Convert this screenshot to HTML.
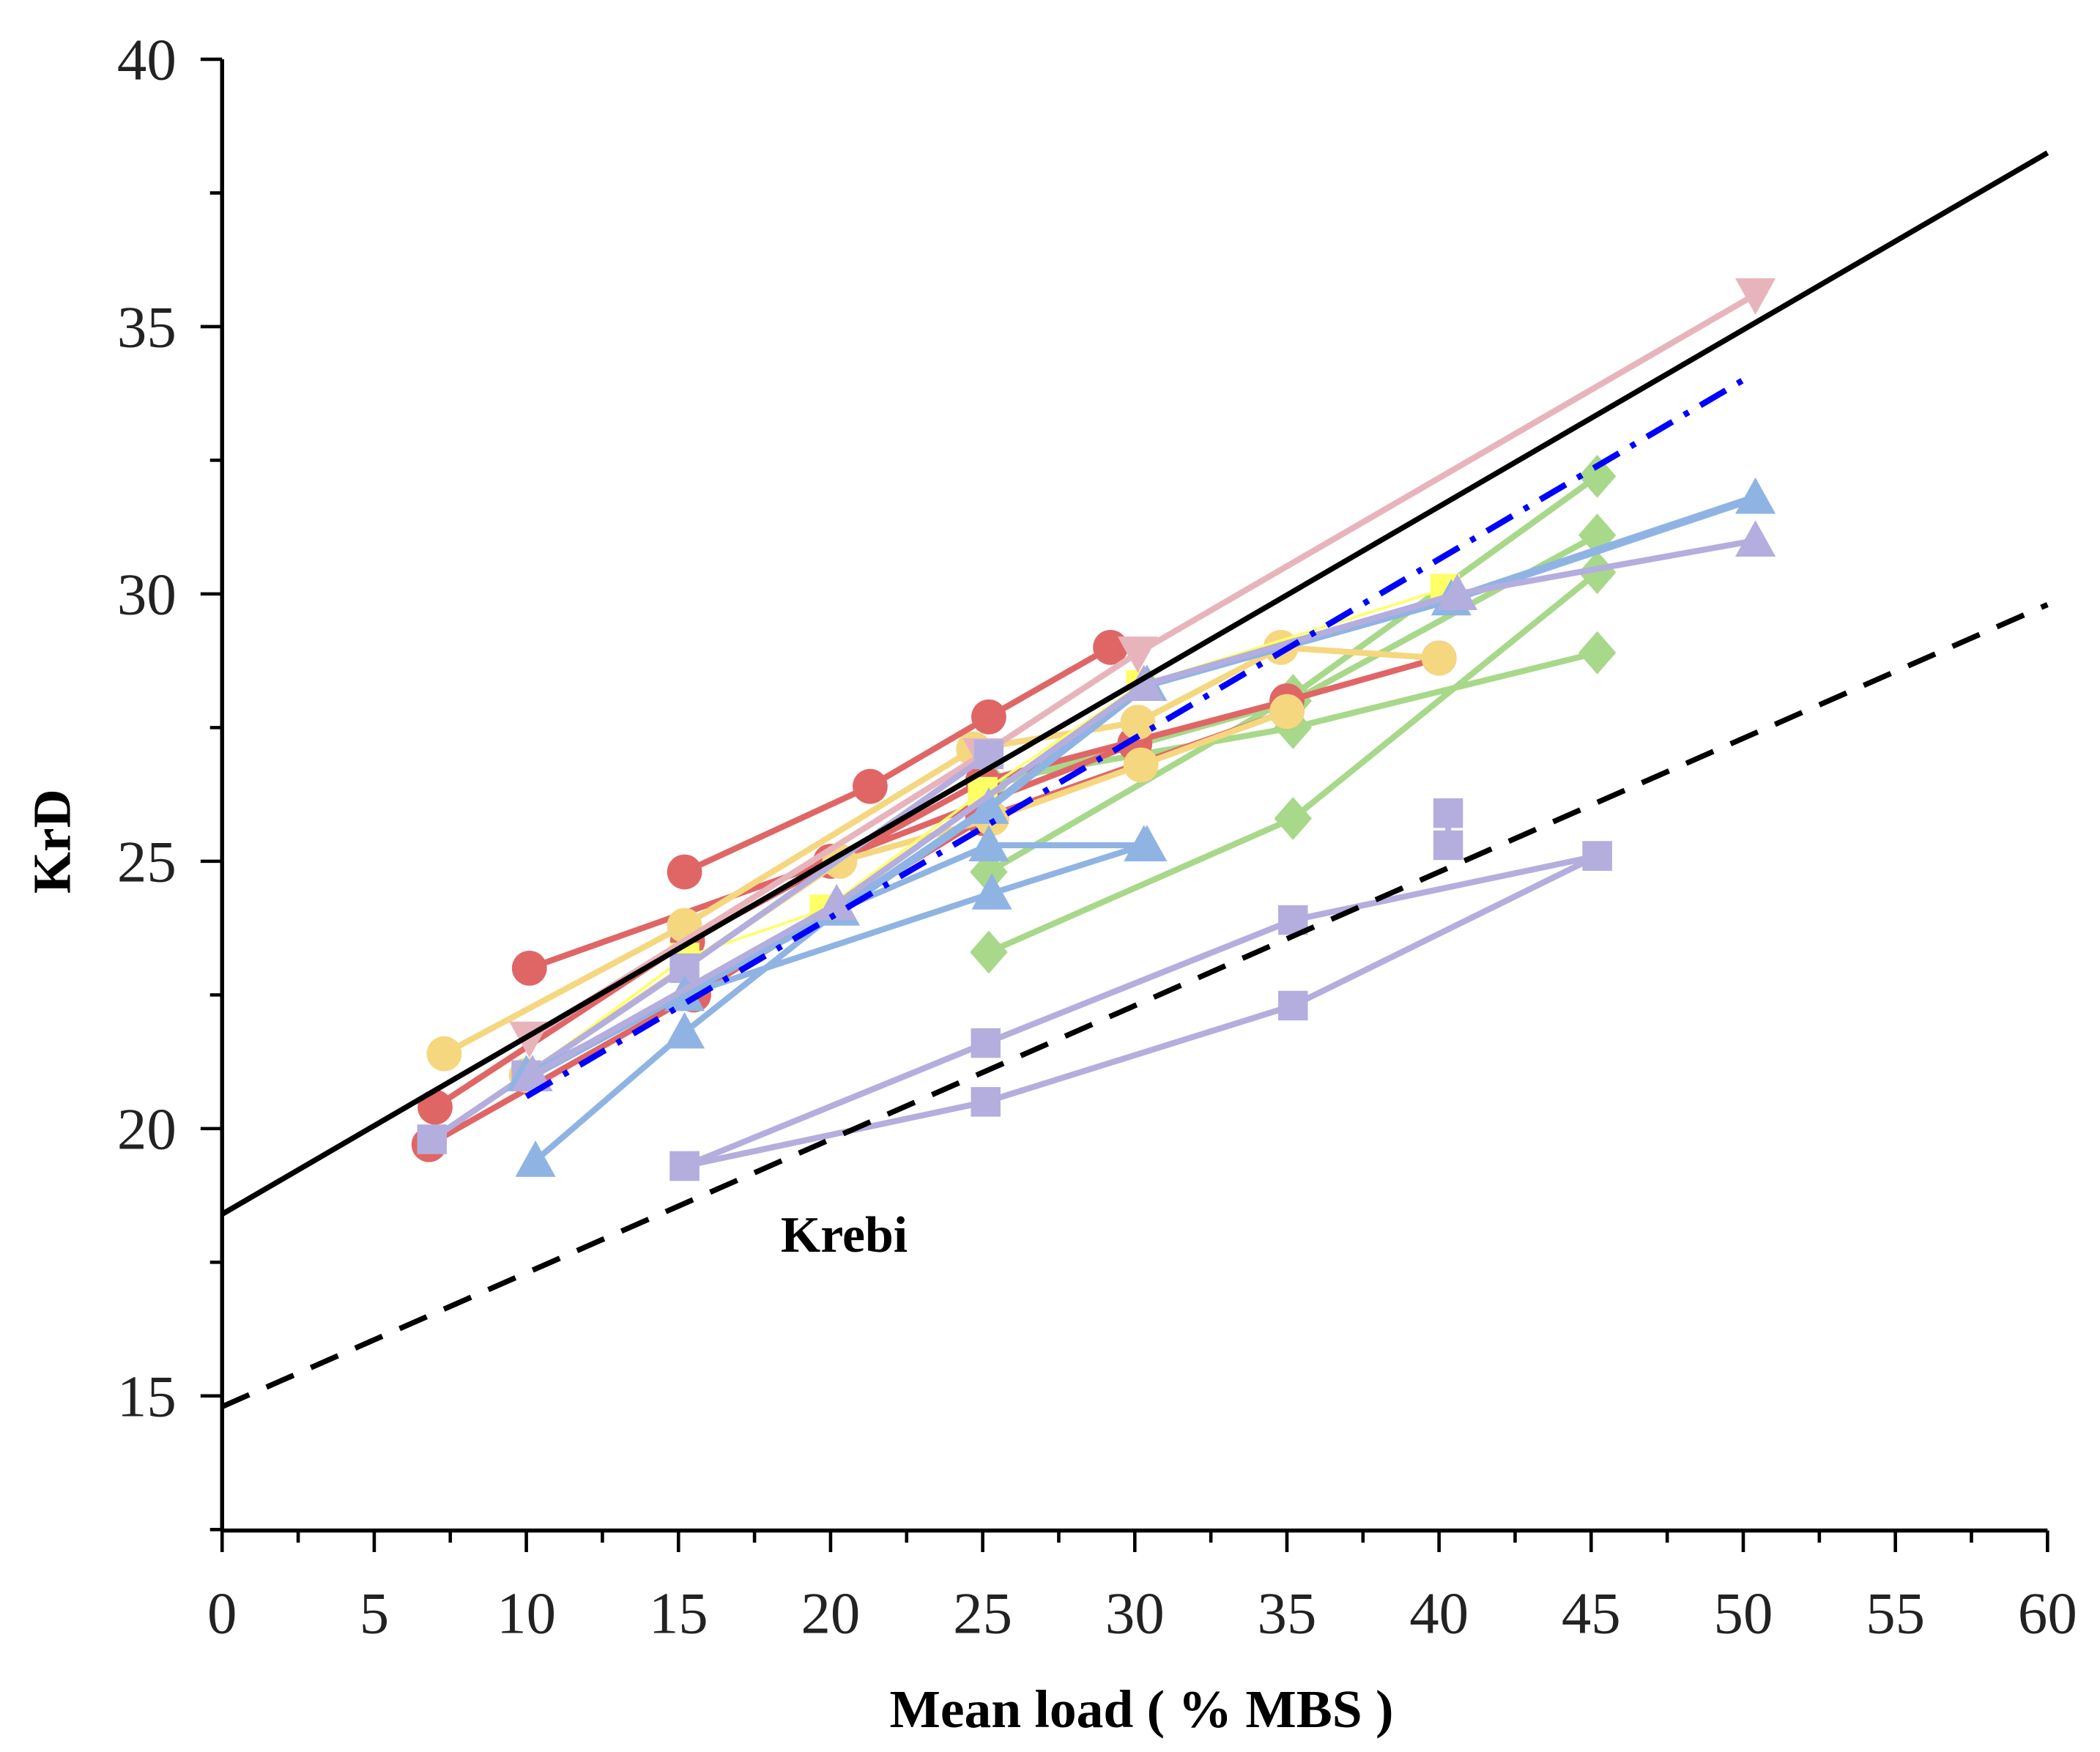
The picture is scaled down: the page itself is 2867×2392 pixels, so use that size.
<!DOCTYPE html>
<html><head><meta charset="utf-8"><style>
html,body{margin:0;padding:0;background:#fff;}
svg{display:block;}
</style></head><body>
<svg id="chart" width="2867" height="2392" viewBox="0 0 1560 1301.5" xmlns="http://www.w3.org/2000/svg" font-family="'Liberation Serif', serif">
<g id="plot"></g>
</svg>
<script>
const xTicks = [0,5,10,15,20,25,30,35,40,45,50,55,60];
const yTicks = [15,20,25,30,35,40];
const refSolid = [[0,18.4],[60,38.25]];
const refDashed = [[0,14.8],[60,29.8]];
const refDashDot = [[10,20.6],[50,34.0]];
const redA = [[15.2,24.8],[21.3,26.4],[25.2,27.7],[29.2,29.0]];
const redB = [[7,20.4],[15.3,23.5],[25,26.5],[35,28],[40,28.8]];
const redC = [[6.8,19.7],[15.5,22.5],[25,25.8],[35,27.8]];
const redD = [[10.1,23.0],[20,25],[30,27.2]];
const yellowA = [[7.3,21.4],[15.2,23.8],[24.7,27.1],[30.1,27.6],[34.8,29],[40,28.8]];
const yellowB = [[10,21],[20.3,25],[25.3,25.8],[30.2,26.8],[35,27.8]];
const yellowSq = [[10,21],[15.2,23.2],[19.8,24.1],[25,26.3],[30.2,28.3],[40.2,30.1]];
const pinkTri = [[10.1,21.7],[25,27],[30.1,28.9],[50.4,35.6]];
const blueA = [[10.3,19.4],[15.2,21.8],[20.3,24.1],[25.2,25.3],[30.4,25.3]];
const blueB = [[10,21],[15.2,22.5],[25.3,24.4],[30.3,25.3]];
const blueC = [[10.2,21],[20.3,24.1],[25.2,26],[30.4,28.3],[40.4,29.9],[50.4,31.8]];
const purpleTri = [[10.2,21.0],[20.2,24.2],[30.3,28.3],[40.6,30.0],[50.4,31.0]];
const purpleSqA = [[6.9,19.8],[10,21],[15.2,23],[25.2,27]];
const purpleSqB = [[15.2,19.3],[25.1,21.6],[35.2,23.9],[45.2,25.1]];
const purpleSqC = [[15.2,19.3],[25.1,20.5],[35.2,22.3],[45.2,25.1]];
const purpleSqD = [[40.3,25.9],[40.3,25.3]];
const greenA = [[25.2,23.3],[35.2,25.8],[45.2,30.4]];
const greenB = [[25.2,24.8],[35.2,28.1],[45.2,32.2]];
const greenC = [[25.2,26.5],[35.2,27.5],[45.2,28.9]];
const greenD = [[25.2,26.4],[35.2,28.0],[45.2,31.1]];

const X0=165, X1=1521, Y40=44, Y15=1037, YB=1137;
const sx = v => X0 + v*(X1-X0)/60;
const sy = v => Y40 + (40-v)*(Y15-Y40)/25;
const NS='http://www.w3.org/2000/svg';
const g=document.getElementById('plot');
function mk(tag,attrs,name){const e=document.createElementNS(NS,tag);for(const k in attrs)e.setAttribute(k,attrs[k]);


g.appendChild(e);return e;}
function pts(d){return d.map(p=>sx(p[0])+','+sy(p[1])).join(' ');}

mk('line',{x1:X0,y1:Y40,x2:X0,y2:YB,stroke:'#000','stroke-width':3},'y-axis');
mk('line',{x1:X0,y1:YB,x2:X1,y2:YB,stroke:'#000','stroke-width':3},'x-axis');
for(let v=0;v<=60;v+=2.5){const maj=v%5===0;
 mk('line',{x1:sx(v),y1:YB,x2:sx(v),y2:YB+(maj?16:9),stroke:'#000','stroke-width':2.5},'x-tick');}
for(let v=12.5;v<=40;v+=2.5){const maj=v%5===0;
 mk('line',{x1:X0,y1:sy(v),x2:X0-(maj?16:9),y2:sy(v),stroke:'#000','stroke-width':2.5},'y-tick');}
xTicks.forEach(v=>{const t=mk('text',{x:sx(v),y:YB+76,'font-size':44,'text-anchor':'middle',fill:'#222'},'x-tick-label');t.textContent=v;});
yTicks.forEach(v=>{const t=mk('text',{x:X0-34,y:sy(v)+15,'font-size':44,'text-anchor':'end',fill:'#222'},'y-tick-label');t.textContent=v;});
let t=mk('text',{x:848,y:1283,'font-size':40,'font-weight':'bold','text-anchor':'middle'},'x-axis-title');t.textContent='Mean load ( % MBS )';
t=mk('text',{x:0,y:0,'font-size':40,'font-weight':'bold','text-anchor':'middle',transform:'translate(52,625) rotate(-90)'},'y-axis-title');t.textContent='KrD';

function series(d,color,marker,name,w){
 mk('polyline',{points:pts(d),fill:'none',stroke:color,'stroke-width':w||4.5},name+'-line');
 d.forEach(p=>{const x=sx(p[0]),y=sy(p[1]),r=13;
  if(marker==='circle') mk('circle',{cx:x,cy:y,r:r,fill:color},name+'-point');
  else if(marker==='square') mk('rect',{x:x-11,y:y-11,width:22,height:22,fill:color},name+'-point');
  else if(marker==='tri') mk('polygon',{points:`${x},${y-15} ${x-15},${y+12} ${x+15},${y+12}`,fill:color},name+'-point');
  else if(marker==='dtri') mk('polygon',{points:`${x},${y+15} ${x-15},${y-12} ${x+15},${y-12}`,fill:color},name+'-point');
  else if(marker==='diamond') mk('polygon',{points:`${x},${y-16} ${x+14},${y} ${x},${y+16} ${x-14},${y}`,fill:color},name+'-point');
 });
}
const RED='#e06666',YEL='#f5d77f',YSQ='#ffff66',PINK='#e8b4bc',BLUE='#8fb4e3',PUR='#b4aede',GRN='#a8d88a';
series(purpleSqB,PUR,'square','purple-square-b');
series(purpleSqC,PUR,'square','purple-square-c');
series(purpleSqD,PUR,'square','purple-square-d');
series(greenA,GRN,'diamond','green-a');
series(greenB,GRN,'diamond','green-b');
series(greenC,GRN,'diamond','green-c');
series(greenD,GRN,'diamond','green-d');
series(redC,RED,'circle','red-c');
series(redB,RED,'circle','red-b');
series(redD,RED,'circle','red-d');
series(yellowB,YEL,'circle','yellow-b');
series(yellowA,YEL,'circle','yellow-a');
series(redA,RED,'circle','red-a');
series(yellowSq,YSQ,'square','yellow-square',2);
series(pinkTri,PINK,'dtri','pink-triangle');
series(purpleSqA,PUR,'square','purple-square-a');
series(blueA,BLUE,'tri','blue-a');
series(blueB,BLUE,'tri','blue-b');
series(blueC,BLUE,'tri','blue-c',6);
series(purpleTri,PUR,'tri','purple-triangle');

mk('line',{x1:sx(refSolid[0][0]),y1:sy(refSolid[0][1]),x2:sx(refSolid[1][0]),y2:sy(refSolid[1][1]),stroke:'#000','stroke-width':4},'reference-solid-line');
mk('line',{x1:sx(refDashed[0][0]),y1:sy(refDashed[0][1]),x2:sx(refDashed[1][0]),y2:sy(refDashed[1][1]),stroke:'#000','stroke-width':4,'stroke-dasharray':'22 14'},'krebi-dashed-line');
mk('line',{x1:sx(refDashDot[0][0]),y1:sy(refDashDot[0][1]),x2:sx(refDashDot[1][0]),y2:sy(refDashDot[1][1]),stroke:'#0000ff','stroke-width':4.5,'stroke-dasharray':'22 10 4 10'},'fit-dash-dot-line');
t=mk('text',{x:580,y:930,'font-size':38,'font-weight':'bold'},'krebi-label');t.textContent='Krebi';
</script>
</body></html>
